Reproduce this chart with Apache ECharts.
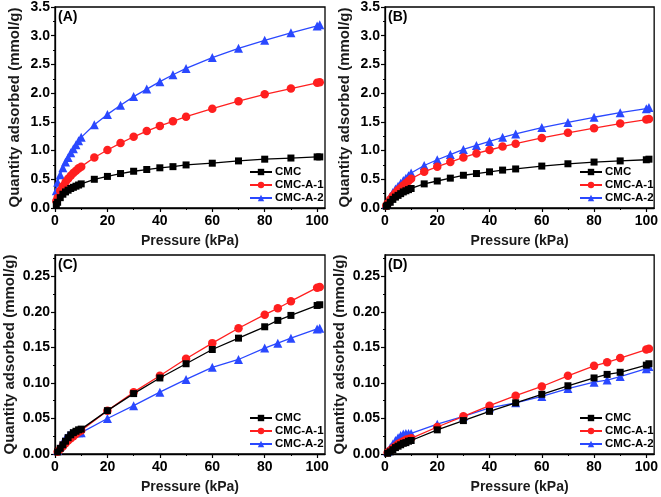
<!DOCTYPE html>
<html><head><meta charset="utf-8">
<script src="https://cdn.jsdelivr.net/npm/echarts@6/dist/echarts.min.js"></script>
<style>html,body{margin:0;padding:0;background:#fff}#c{width:661px;height:497px}</style>
</head><body><div id="c"></div>
<script>
// ---- data ----
const seriesNames = ['CMC', 'CMC-A-1', 'CMC-A-2'];
const panelLabels = ['(A)', '(B)', '(C)', '(D)'];
const pressureAB = [0.5,1,2,3,4,5,6,7,8,9,10,15,20,25,30,35,40,45,50,60,70,80,90,100,101];
const pressureCD = [1,2,3,4,5,6,7,8,9,10,20,30,40,50,60,70,80,85,90,100,101];

const cmcA = [0.06,0.10,0.18,0.24,0.28,0.31,0.34,0.36,0.38,0.40,0.42,0.50,0.55,0.60,0.64,0.67,0.70,0.72,0.75,0.78,0.82,0.85,0.87,0.89,0.89];
const a1A  = [0.12,0.18,0.30,0.38,0.45,0.51,0.56,0.61,0.65,0.69,0.72,0.88,1.01,1.13,1.24,1.34,1.43,1.51,1.59,1.73,1.86,1.98,2.08,2.18,2.19];
const a2A  = [0.30,0.45,0.58,0.70,0.80,0.88,0.96,1.03,1.10,1.17,1.23,1.45,1.63,1.79,1.94,2.07,2.20,2.32,2.43,2.62,2.78,2.92,3.05,3.17,3.19];

const cmcB = [0.03,0.05,0.10,0.15,0.19,0.22,0.25,0.28,0.30,0.32,0.34,0.42,0.47,0.52,0.57,0.60,0.63,0.66,0.68,0.73,0.77,0.80,0.82,0.84,0.85];
const a1B  = [0.04,0.08,0.15,0.21,0.26,0.31,0.35,0.39,0.43,0.47,0.51,0.63,0.72,0.80,0.88,0.95,1.01,1.07,1.12,1.22,1.31,1.39,1.47,1.54,1.55];
const a2B  = [0.07,0.12,0.20,0.27,0.33,0.38,0.43,0.48,0.52,0.56,0.61,0.74,0.84,0.93,1.02,1.09,1.16,1.23,1.29,1.40,1.49,1.58,1.66,1.73,1.75];

const cmcC = [0.003,0.008,0.013,0.018,0.023,0.027,0.030,0.032,0.034,0.035,0.061,0.085,0.107,0.127,0.147,0.163,0.179,0.188,0.195,0.209,0.210];
const a1C  = [0.003,0.007,0.011,0.015,0.019,0.022,0.025,0.028,0.031,0.033,0.061,0.087,0.110,0.134,0.156,0.177,0.196,0.205,0.215,0.234,0.235];
const a2C  = [0.005,0.011,0.017,0.022,0.026,0.029,0.030,0.030,0.030,0.030,0.050,0.068,0.087,0.105,0.122,0.133,0.149,0.156,0.163,0.176,0.177];

const cmcD = [0.001,0.003,0.006,0.009,0.011,0.013,0.015,0.016,0.018,0.019,0.034,0.047,0.060,0.072,0.084,0.096,0.107,0.112,0.115,0.125,0.127];
const a1D  = [0.002,0.005,0.008,0.011,0.014,0.016,0.018,0.020,0.021,0.022,0.038,0.053,0.068,0.082,0.095,0.110,0.124,0.129,0.135,0.147,0.148];
const a2D  = [0.004,0.009,0.014,0.019,0.023,0.026,0.028,0.029,0.029,0.029,0.042,0.053,0.065,0.072,0.081,0.092,0.101,0.104,0.109,0.120,0.123];

const xTicks = [0,20,40,60,80,100];
const xMinor = [10,30,50,70,90];
const yTicksAB = [0,0.5,1,1.5,2,2.5,3,3.5];
const yMinorAB = [0.25,0.75,1.25,1.75,2.25,2.75,3.25];
const yTicksCD = [0,0.05,0.10,0.15,0.20,0.25];
const yMinorCD = [0.025,0.075,0.125,0.175,0.225,0.275];

// ---- layout ----
const FONT = 'Liberation Sans, Arial, sans-serif';
const colors = ['#000000', '#ff1f1f', '#2a48ff'];
const symbols = ['rect', 'circle', 'triangle'];
const symSizes = [7, 8.5, 9];
const panels = [
  {left:55, top:7, w:270, h:201, xData:pressureAB, ys:[cmcA,a1A,a2A], yMax:3.5, yTicks:yTicksAB, yMinor:yMinorAB, dec:1, nameGap:33},
  {left:385, top:7, w:270, h:201, xData:pressureAB, ys:[cmcB,a1B,a2B], yMax:3.5, yTicks:yTicksAB, yMinor:yMinorAB, dec:1, nameGap:33},
  {left:55, top:255, w:270, h:199, xData:pressureCD, ys:[cmcC,a1C,a2C], yMax:0.28, yTicks:yTicksCD, yMinor:yMinorCD, dec:2, nameGap:38},
  {left:385, top:255, w:270, h:199, xData:pressureCD, ys:[cmcD,a1D,a2D], yMax:0.28, yTicks:yTicksCD, yMinor:yMinorCD, dec:2, nameGap:38}
];

const grid = [], xAxis = [], yAxis = [], series = [], legend = [], graphic = [];
panels.forEach((p, i) => {
  grid.push({left:p.left, top:p.top, width:p.w, height:p.h, show:true, borderColor:'#000', borderWidth:1.3, backgroundColor:'transparent'});
  xAxis.push({
    type:'value', gridIndex:i, min:0, max:103,
    name:'Pressure (kPa)', nameLocation:'middle', nameGap:26,
    nameTextStyle:{fontFamily:FONT, fontWeight:'bold', fontSize:14, color:'#1a1a1a'},
    axisLine:{show:true, onZero:false, lineStyle:{color:'#000', width:1.3}},
    axisTick:{show:true, inside:false, length:4, customValues:xTicks, lineStyle:{color:'#000', width:1.2}},
    axisLabel:{customValues:xTicks, margin:6, fontFamily:FONT, fontWeight:'bold', fontSize:14, color:'#000'},
    splitLine:{show:false}
  });
  yAxis.push({
    type:'value', gridIndex:i, min:0, max:p.yMax,
    name:'Quantity adsorbed (mmol/g)', nameLocation:'middle', nameGap:p.nameGap,
    nameTextStyle:{fontFamily:FONT, fontWeight:'bold', fontSize:15, color:'#1a1a1a'},
    axisLine:{show:true, onZero:false, lineStyle:{color:'#000', width:1.3}},
    axisTick:{show:true, inside:false, length:4, customValues:p.yTicks, lineStyle:{color:'#000', width:1.2}},
    axisLabel:{customValues:p.yTicks, margin:5, fontFamily:FONT, fontWeight:'bold', fontSize:14, color:'#000',
      formatter: v => Number(v).toFixed(p.dec)},
    splitLine:{show:false}
  });
});
// minor tick axes
panels.forEach((p, i) => {
  xAxis.push({type:'value', gridIndex:i, min:0, max:103, position:'bottom',
    axisLine:{show:false}, axisLabel:{show:false}, splitLine:{show:false},
    axisTick:{show:true, length:2, customValues:xMinor, lineStyle:{color:'#000', width:1}}});
  yAxis.push({type:'value', gridIndex:i, min:0, max:p.yMax, position:'left',
    axisLine:{show:false}, axisLabel:{show:false}, splitLine:{show:false},
    axisTick:{show:true, length:2, customValues:p.yMinor, lineStyle:{color:'#000', width:1}}});
});
panels.forEach((p, i) => {
  p.ys.forEach((vals, k) => {
    series.push({
      type:'line', name:seriesNames[k], xAxisIndex:i, yAxisIndex:i,
      data: p.xData.map((x, j) => [x, vals[j]]),
      symbol:symbols[k], symbolSize:symSizes[k], showSymbol:true,
      lineStyle:{color:colors[k], width:1.3},
      itemStyle:{color:colors[k]},
      z: 3 + (2 - k),
      animation:false
    });
  });
  legend.push({
    data:seriesNames, orient:'vertical', left:p.left + 194, top:p.top + p.h - 42,
    itemWidth:22, itemHeight:8, itemGap:1, padding:0,
    textStyle:{fontFamily:FONT, fontWeight:'bold', fontSize:11.5, lineHeight:12, color:'#000', padding:[0,0,0,-2]},
    selectedMode:false
  });
  graphic.push({type:'text', left:p.left + 3, top:p.top + 3,
    style:{text:panelLabels[i], font:'bold 14px ' + FONT, fill:'#000'}});
});

const chart = echarts.init(document.getElementById('c'), null, {renderer:'canvas'});
chart.setOption({animation:false, backgroundColor:'#fff', grid, xAxis, yAxis, series, legend, graphic});
</script></body></html>
